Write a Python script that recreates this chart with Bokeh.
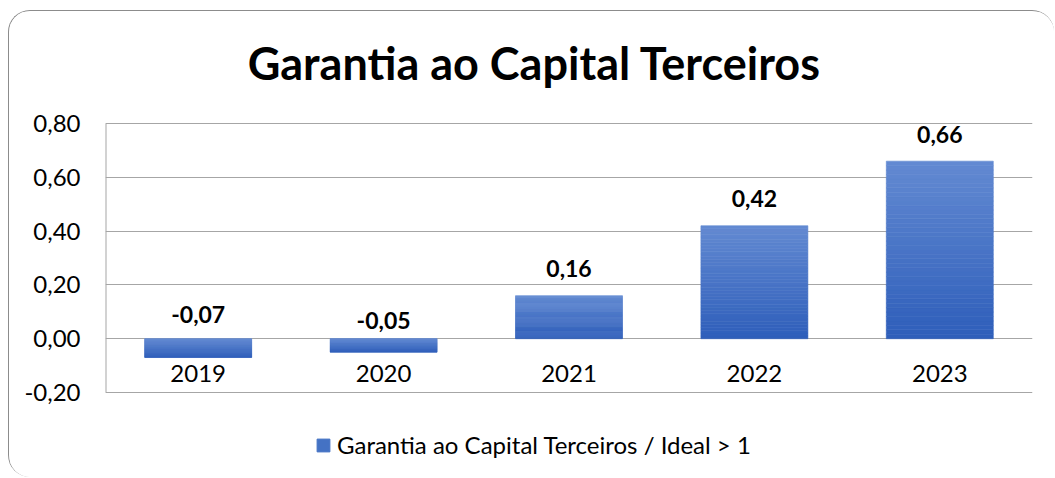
from bokeh.plotting import figure
from bokeh.models import (ColumnDataSource, Range1d, FixedTicker,
                          CustomJSTickFormatter, Legend, LegendItem, Label)
from bokeh.core.properties import value
from bokeh.embed import file_html
from bokeh.resources import INLINE

# ---- data ----
years = ["2019", "2020", "2021", "2022", "2023"]
values = [-0.07, -0.05, 0.16, 0.42, 0.66]
value_labels = ["-0,07", "-0,05", "0,16", "0,42", "0,66"]
y_ticks = [-0.2, 0.0, 0.2, 0.4, 0.6, 0.8]
series_name = "Garantia ao Capital Terceiros / Ideal > 1"
chart_title = "Garantia ao Capital Terceiros"

FONT = "Lato"
GRID = "#a6a6a6"
LIGHT = (99, 138, 210)
DARK = (46, 94, 186)
BASE = "#4472C4"

# layout (pixels)
W, H = 1046, 467
LEFT, RIGHT, TOP = 96, 23, 112   # TOP: space between figure top and the 0.80 line
PLOT_H = 269                     # pixels from 0.80 to -0.20
PLOT_W = W - LEFT - RIGHT
span = y_ticks[-1] - y_ticks[0]
y_lo = y_ticks[0] - (H - TOP - PLOT_H) / PLOT_H * span
y_hi = y_ticks[-1] + TOP / PLOT_H * span
# title centre: 61 px above the 0.80 line, 429 px right of the plot's left edge
title_x = 429 / PLOT_W * len(years)
title_y = y_ticks[-1] + 61 / PLOT_H * span

xs = [i + 0.5 for i in range(len(years))]

p = figure(width=W, height=H,
           x_range=Range1d(0, len(years)),
           y_range=Range1d(y_lo, y_hi),
           output_backend="svg", toolbar_location=None,
           min_border_left=LEFT, min_border_right=RIGHT,
           min_border_top=0, min_border_bottom=0)
p.styles = {"border-top": "1px solid #8c8c8c", "border-left": "1px solid #8c8c8c",
            "border-top-left-radius": "22px", "border-top-right-radius": "22px",
            "border-bottom-left-radius": "22px",
            "overflow": "hidden", "margin-left": "8px", "margin-top": "10px"}
p.outline_line_color = None
p.background_fill_color = "white"
p.border_fill_color = "white"

p.add_layout(Label(x=title_x, y=title_y, text=chart_title,
                   text_align="center", text_baseline="middle",
                   text_font=FONT, text_font_style="bold",
                   text_font_size="45px", text_color="#000000"))

# gradient bars built as stacked slices of each bar
N = 40
sx, stop, sbot, scol = [], [], [], []
for x, v in zip(xs, values):
    lo, hi = min(0.0, v), max(0.0, v)
    for k in range(N):
        t0, t1 = k / N, (k + 1) / N
        f = (k + 0.5) / N
        c = tuple(int(round(DARK[i] + (LIGHT[i] - DARK[i]) * f)) for i in range(3))
        sx.append(x)
        sbot.append(lo + (hi - lo) * t0)
        stop.append(lo + (hi - lo) * t1)
        scol.append("#%02x%02x%02x" % c)
seg = ColumnDataSource(dict(x=sx, top=stop, bottom=sbot, color=scol))
p.vbar(x="x", top="top", bottom="bottom", width=0.577, source=seg,
       fill_color="color", line_color="color", line_width=0.6)

# legend proxy (zero-size bar)
proxy = p.vbar(x=[xs[0]], top=[0.0], bottom=[0.0], width=0.0,
               fill_color=BASE, line_color=BASE)

# left edge of the plot area
p.segment(x0=[0], y0=[y_ticks[0]], x1=[0], y1=[y_ticks[-1]], line_color=GRID, line_width=2)

# value labels
pos = ColumnDataSource(dict(x=[x for x, v in zip(xs, values) if v >= 0],
                            y=[v for v in values if v >= 0],
                            t=[l for l, v in zip(value_labels, values) if v >= 0]))
neg = ColumnDataSource(dict(x=[x for x, v in zip(xs, values) if v < 0],
                            y=[-v for v in values if v < 0],
                            t=[l for l, v in zip(value_labels, values) if v < 0]))
for src, off in ((pos, -27), (neg, -5)):
    p.text(x="x", y="y", text="t", source=src, text_align="center",
           text_baseline="alphabetic", y_offset=off,
           text_font=value(FONT), text_font_style="bold",
           text_font_size="23px", text_color="#000000")

# category labels next to the zero line
cat = ColumnDataSource(dict(x=xs, y=[0.0] * len(years), t=years))
p.text(x="x", y="y", text="t", source=cat, text_align="center",
       text_baseline="alphabetic", y_offset=35,
       text_font=value(FONT), text_font_size="24px", text_color="#000000")

# axes
ticker = FixedTicker(ticks=y_ticks)
p.yaxis.ticker = ticker
p.yaxis.formatter = CustomJSTickFormatter(code="return tick.toFixed(2).replace('.', ',');")
p.yaxis.major_tick_line_color = None
p.yaxis.minor_tick_line_color = None
p.yaxis.axis_line_color = None
p.yaxis.major_label_text_font = FONT
p.yaxis.major_label_text_font_size = "24px"
p.yaxis.major_label_text_color = "#000000"
p.yaxis.major_label_standoff = 19

p.xaxis.visible = False
p.ygrid.ticker = ticker
p.ygrid.grid_line_color = GRID
p.xgrid.grid_line_color = None

legend = Legend(items=[LegendItem(label=series_name, renderers=[proxy])],
                location=(210, 19), orientation="horizontal",
                glyph_width=16, glyph_height=16,
                label_text_font=FONT, label_text_font_size="24px",
                label_text_color="#000000", label_standoff=6,
                border_line_color=None, background_fill_alpha=0,
                margin=0, padding=0)
p.add_layout(legend, "center")

open("out.html", "w").write(file_html(p, INLINE))
